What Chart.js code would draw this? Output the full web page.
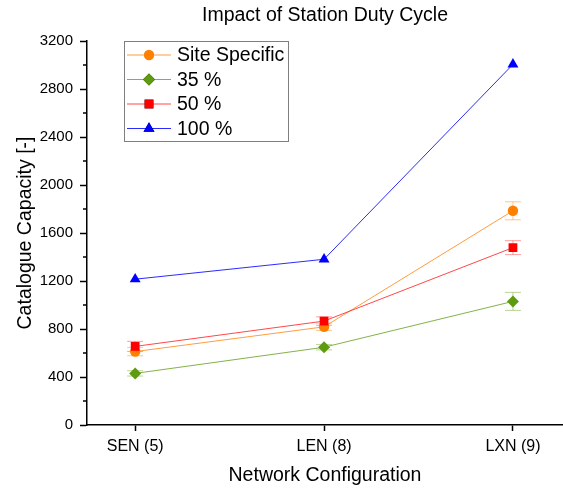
<!DOCTYPE html>
<html>
<head>
<meta charset="utf-8">
<script src="https://cdn.jsdelivr.net/npm/chart.js@4/dist/chart.umd.min.js"></script>
<style>
  html, body { margin: 0; padding: 0; background: #fff; }
  #wrap { width: 563px; height: 490px; }
</style>
</head>
<body>
<div id="wrap"><canvas id="grafico" width="563" height="490"></canvas></div>
<script>
const categorias = ["SEN (5)", "LEN (8)", "LXN (9)"];
const yTicks = [0, 400, 800, 1200, 1600, 2000, 2400, 2800, 3200];

const siteSpecific = [612, 818, 1785];
const siteSpecificErr = [35, 30, 75];
const dc35 = [430, 648, 1030];
const dc35Err = [22, 22, 75];
const dc50 = [655, 866, 1478];
const dc50Err = [42, 35, 58];
const dc100 = [1215, 1381, 3005];
const dc100Err = [0, 0, 0];

Chart.defaults.font.family = "'Liberation Sans', Arial, sans-serif";
Chart.defaults.color = "#000";

function pontos(valores) {
  return valores.map((v, i) => ({ x: i, y: v }));
}

const series = [
  { label: "Site Specific", dados: siteSpecific, erros: siteSpecificErr, cor: "#ff8000", linha: "rgba(255,140,30,0.85)", erroCor: "rgba(255,150,60,0.55)", estilo: "circle", raio: 5.2, ordem: 3 },
  { label: "35 %", dados: dc35, erros: dc35Err, cor: "#5f9b0f", linha: "rgba(110,165,40,0.85)", erroCor: "rgba(120,170,50,0.5)", estilo: "rectRot", raio: 6, ordem: 2 },
  { label: "50 %", dados: dc50, erros: dc50Err, cor: "#ff0000", linha: "rgba(255,40,40,0.85)", erroCor: "rgba(255,60,60,0.5)", estilo: "rect", raio: 6.2, ordem: 1 },
  { label: "100 %", dados: dc100, erros: dc100Err, cor: "#0000ff", linha: "rgba(20,20,255,0.9)", erroCor: "rgba(40,40,255,0.5)", estilo: "triangle", raio: 6.3, ordem: 0 }
];

const barrasErro = {
  id: "barrasErro",
  beforeDatasetsDraw(chart) {
    const ctx = chart.ctx;
    const xs = chart.scales.x, ys = chart.scales.y;
    ctx.save();
    ctx.lineWidth = 1;
    series.forEach(s => {
      ctx.strokeStyle = s.erroCor;
      s.dados.forEach((v, i) => {
        const e = s.erros[i];
        if (!e) return;
        const px = xs.getPixelForValue(i);
        const top = ys.getPixelForValue(v + e);
        const bot = ys.getPixelForValue(v - e);
        ctx.beginPath();
        ctx.moveTo(px, top); ctx.lineTo(px, bot);
        ctx.moveTo(px - 8, top); ctx.lineTo(px + 8, top);
        ctx.moveTo(px - 8, bot); ctx.lineTo(px + 8, bot);
        ctx.stroke();
      });
    });
    ctx.restore();
  }
};

const ticksMenores = {
  id: "ticksMenores",
  afterDraw(chart) {
    const ctx = chart.ctx;
    const ys = chart.scales.y;
    const left = chart.chartArea.left;
    ctx.save();
    ctx.strokeStyle = "#000";
    ctx.lineWidth = 1.5;
    for (let i = 0; i < yTicks.length - 1; i++) {
      const meio = (yTicks[i] + yTicks[i + 1]) / 2;
      const py = ys.getPixelForValue(meio);
      ctx.beginPath();
      ctx.moveTo(left - 4, py);
      ctx.lineTo(left, py);
      ctx.stroke();
    }
    ctx.restore();
  }
};

const legendaCaixa = {
  id: "legendaCaixa",
  afterDraw(chart) {
    const ctx = chart.ctx;
    const x0 = 124.5, y0 = 41.5, w = 164, h = 100;
    ctx.save();
    ctx.fillStyle = "#fff";
    ctx.fillRect(x0, y0, w, h);
    ctx.strokeStyle = "#7f7f7f";
    ctx.lineWidth = 1;
    ctx.strokeRect(x0, y0, w, h);
    ctx.font = "19.5px 'Liberation Sans', Arial, sans-serif";
    ctx.textBaseline = "middle";
    series.forEach((s, i) => {
      const y = 55 + i * 24.5;
      ctx.strokeStyle = s.linha;
      ctx.lineWidth = 1;
      ctx.beginPath();
      ctx.moveTo(127, y); ctx.lineTo(171, y);
      ctx.stroke();
      Chart.helpers.drawPoint(ctx, { pointStyle: s.estilo, radius: s.raio, borderWidth: 0 }, 149, y);
      ctx.fillStyle = s.cor;
      ctx.fill();
      ctx.fillStyle = "#000";
      ctx.fillText(s.label, 177, y + 1);
    });
    ctx.restore();
  }
};

new Chart(document.getElementById("grafico").getContext("2d"), {
  type: "line",
  data: {
    datasets: series.map(s => ({
      label: s.label,
      data: pontos(s.dados),
      borderColor: s.linha,
      borderWidth: 1,
      backgroundColor: s.cor,
      pointBackgroundColor: s.cor,
      pointBorderColor: s.cor,
      pointBorderWidth: 0,
      pointStyle: s.estilo,
      pointRadius: s.raio,
      tension: 0,
      order: s.ordem
    }))
  },
  options: {
    responsive: false,
    animation: false,
    events: [],
    layout: { padding: 0, autoPadding: false },
    plugins: {
      legend: { display: false },
      tooltip: { enabled: false },
      title: {
        display: true,
        fullSize: false,
        text: "Impact of Station Duty Cycle",
        font: { size: 19.5, weight: "normal" },
        padding: { top: 4, bottom: 13.6 }
      }
    },
    scales: {
      x: {
        type: "linear",
        min: -0.255,
        max: 2.265,
        afterBuildTicks: scale => { scale.ticks = categorias.map((c, i) => ({ value: i })); },
        afterFit: scale => { scale.height = 65; scale.paddingLeft = 0; scale.paddingRight = 0; },
        ticks: {
          callback: v => categorias[v],
          font: { size: 16 },
          padding: 6,
          maxRotation: 0
        },
        grid: { drawOnChartArea: false, tickLength: 6, tickColor: "#000", tickWidth: 1.5 },
        border: { color: "#000", width: 1.5 },
        title: {
          display: true,
          text: "Network Configuration",
          font: { size: 19.5 },
          padding: { top: 0, bottom: 3 }
        }
      },
      y: {
        min: 0,
        max: 3200,
        afterBuildTicks: scale => { scale.ticks = yTicks.map(v => ({ value: v })); },
        afterFit: scale => { scale.width = 87; scale.paddingTop = 0; scale.paddingBottom = 0; },
        ticks: { font: { size: 15 }, padding: 7, callback: v => String(v) },
        grid: { drawOnChartArea: false, tickLength: 7, tickColor: "#000", tickWidth: 1.5 },
        border: { color: "#000", width: 1.5 },
        title: {
          display: true,
          text: "Catalogue Capacity [-]",
          font: { size: 19.5 },
          padding: { top: 14, bottom: 0 }
        }
      }
    }
  },
  plugins: [barrasErro, ticksMenores, legendaCaixa]
});
</script>
</body>
</html>
